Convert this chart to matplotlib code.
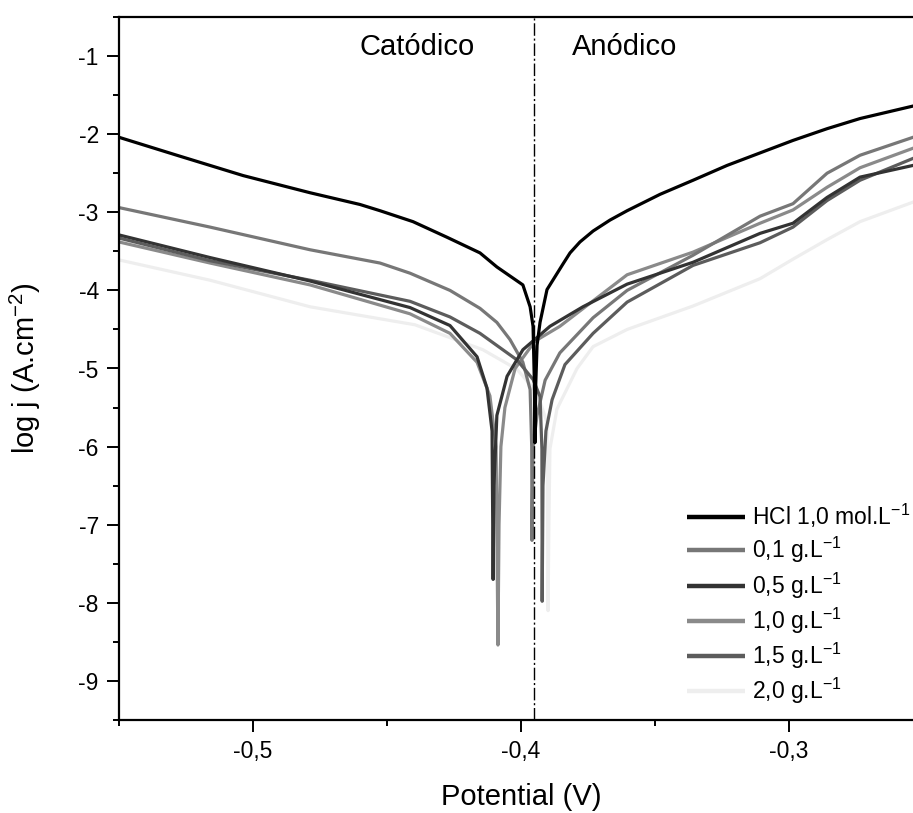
import matplotlib
matplotlib.use("Agg")
import matplotlib.pyplot as plt
from matplotlib.ticker import MultipleLocator, FuncFormatter

plt.rcParams['font.family'] = ['Liberation Sans', 'DejaVu Sans']
plt.rcParams['mathtext.fontset'] = 'custom'
plt.rcParams['mathtext.rm'] = 'Liberation Sans'
plt.rcParams['mathtext.it'] = 'Liberation Sans:italic'
plt.rcParams['mathtext.default'] = 'regular'

# ---- data (potential in V, log j) ----
labels = ["HCl 1,0 mol.L$^{-1}$", "0,1 g.L$^{-1}$", "0,5 g.L$^{-1}$",
          "1,0 g.L$^{-1}$", "1,5 g.L$^{-1}$", "2,0 g.L$^{-1}$"]
colors = ["#000000", "#777777", "#333333", "#8a8a8a", "#5c5c5c", "#eeeeee"]

E_hcl = [-0.55, -0.5284, -0.5037, -0.4787, -0.4601, -0.4526, -0.4403, -0.4276, -0.4153,
         -0.4090, -0.3993, -0.3966, -0.3955, -0.3950, -0.3948, -0.3945, -0.3940, -0.3929,
         -0.3903, -0.3843, -0.3817, -0.3780, -0.3731, -0.3668, -0.3604, -0.3481, -0.3358,
         -0.3231, -0.3108, -0.2985, -0.2858, -0.2735, -0.2537, -0.25]
J_hcl = [-2.04, -2.27, -2.53, -2.75, -2.90, -2.98, -3.12, -3.32, -3.52,
         -3.70, -3.93, -4.21, -4.46, -5.20, -5.95, -5.20, -4.70, -4.41,
         -3.99, -3.66, -3.52, -3.38, -3.24, -3.10, -2.98, -2.77, -2.59,
         -2.40, -2.24, -2.08, -1.93, -1.80, -1.64, -1.60]

E_01 = [-0.55, -0.5160, -0.4787, -0.4526, -0.4414, -0.4265, -0.4153, -0.4090, -0.4041,
        -0.3993, -0.3966, -0.3960, -0.3959, -0.3955, -0.3940, -0.3910, -0.3855, -0.3731,
        -0.3604, -0.3358, -0.3108, -0.2985, -0.2858, -0.2735, -0.2537, -0.25]
J_01 = [-2.94, -3.19, -3.48, -3.65, -3.78, -4.00, -4.23, -4.41, -4.63,
        -4.92, -5.27, -6.00, -7.20, -6.00, -5.60, -5.15, -4.80, -4.35,
        -4.00, -3.55, -3.05, -2.89, -2.50, -2.27, -2.04, -2.00]

E_05 = [-0.55, -0.5160, -0.4787, -0.4414, -0.4265, -0.4164, -0.4127, -0.4108, -0.4104,
        -0.4101, -0.4090, -0.4052, -0.3993, -0.3892, -0.3769, -0.3604, -0.3358, -0.3108,
        -0.2985, -0.2858, -0.2735, -0.2537, -0.25]
J_05 = [-3.29, -3.58, -3.88, -4.22, -4.45, -4.85, -5.25, -5.80, -7.70,
        -6.50, -5.60, -5.10, -4.76, -4.46, -4.21, -3.92, -3.64, -3.27,
        -3.14, -2.81, -2.55, -2.40, -2.36]

E_10 = [-0.55, -0.5160, -0.4787, -0.4414, -0.4265, -0.4164, -0.4116, -0.4093, -0.4086,
        -0.4082, -0.4075, -0.4060, -0.4022, -0.3948, -0.3855, -0.3604, -0.3358, -0.3108,
        -0.2985, -0.2858, -0.2735, -0.2537, -0.25]
J_10 = [-3.38, -3.65, -3.93, -4.30, -4.55, -4.92, -5.35, -6.00, -8.54,
        -7.00, -6.00, -5.50, -5.00, -4.65, -4.46, -3.80, -3.51, -3.14,
        -2.97, -2.68, -2.43, -2.18, -2.14]

E_15 = [-0.55, -0.5160, -0.4787, -0.4414, -0.4265, -0.4153, -0.4015, -0.3955, -0.3929,
        -0.3922, -0.3921, -0.3918, -0.3907, -0.3884, -0.3836, -0.3731, -0.3604, -0.3358,
        -0.3108, -0.2985, -0.2858, -0.2735, -0.2537, -0.25]
J_15 = [-3.33, -3.62, -3.87, -4.14, -4.34, -4.55, -4.89, -5.14, -5.36,
        -6.03, -7.98, -6.50, -5.80, -5.40, -4.95, -4.55, -4.15, -3.68,
        -3.39, -3.19, -2.85, -2.59, -2.31, -2.27]

E_20 = [-0.55, -0.5160, -0.4787, -0.4396, -0.4142, -0.4015, -0.3940, -0.3903, -0.3899,
        -0.3896, -0.3892, -0.3866, -0.3791, -0.3731, -0.3604, -0.3358, -0.3108, -0.2985,
        -0.2858, -0.2735, -0.2537, -0.25]
J_20 = [-3.61, -3.87, -4.21, -4.44, -4.76, -5.01, -5.31, -5.69, -8.10,
        -7.00, -6.03, -5.52, -5.00, -4.72, -4.50, -4.20, -3.85, -3.60,
        -3.35, -3.12, -2.87, -2.83]

E_series = [E_hcl, E_01, E_05, E_10, E_15, E_20]
J_series = [J_hcl, J_01, J_05, J_10, J_15, J_20]
E_corr_line = -0.3952

# ---- figure ----
fig = plt.figure(figsize=(9.13, 8.13), dpi=100)
ax = fig.add_axes([119/913, 93/813, (923-119)/913, (720-17)/813])

order = [5, 3, 1, 4, 2, 0]
lines = {}
for i in order:
    ln, = ax.plot(E_series[i], J_series[i], color=colors[i], lw=2.3, label=labels[i],
                  solid_joinstyle='round', solid_capstyle='butt')
    lines[i] = ln

ax.axvline(E_corr_line, color='black', lw=1.0, linestyle=(0, (9, 2, 1.5, 2)))

ax.set_xlim(-0.55, -0.25)
ax.set_ylim(-9.5, -0.5)

ax.xaxis.set_major_locator(MultipleLocator(0.1))
ax.xaxis.set_minor_locator(MultipleLocator(0.05))
ax.yaxis.set_major_locator(MultipleLocator(1))
ax.yaxis.set_minor_locator(MultipleLocator(0.5))
ax.xaxis.set_major_formatter(FuncFormatter(lambda v, p: ("%.1f" % v).replace('.', ',')))
ax.yaxis.set_major_formatter(FuncFormatter(lambda v, p: "%d" % round(v)))

ax.tick_params(which='major', direction='out', length=8.5, width=1.4, labelsize=16.5,
               top=False, right=False)
ax.tick_params(which='minor', direction='out', length=4.5, width=1.4, top=False, right=False)
ax.tick_params(axis='x', which='major', pad=6)
ax.tick_params(axis='y', which='major', pad=6)
for s in ax.spines.values():
    s.set_linewidth(1.6)

ax.set_xlabel("Potential (V)", fontsize=21)
ax.set_ylabel("log j (A.cm$^{-2}$)", fontsize=21)
ax.xaxis.set_label_coords(0.5, -0.09)
ax.yaxis.set_label_coords(-0.094, 0.5)

ax.text(-0.4387, -0.88, "Catódico", fontsize=21, ha='center', va='center')
ax.text(-0.3612, -0.88, "Anódico", fontsize=21, ha='center', va='center')

handles = [lines[i] for i in range(6)]
leg = fig.legend(handles, labels, loc='upper left',
                 bbox_to_anchor=(687/913, 1 - 502/813), frameon=False,
                 fontsize=16.5, handlelength=2.55, handletextpad=0.3,
                 labelspacing=0.22, borderpad=0, borderaxespad=0)
for l in leg.get_lines():
    l.set_linewidth(3.2)

fig.savefig("out.png", dpi=100)
